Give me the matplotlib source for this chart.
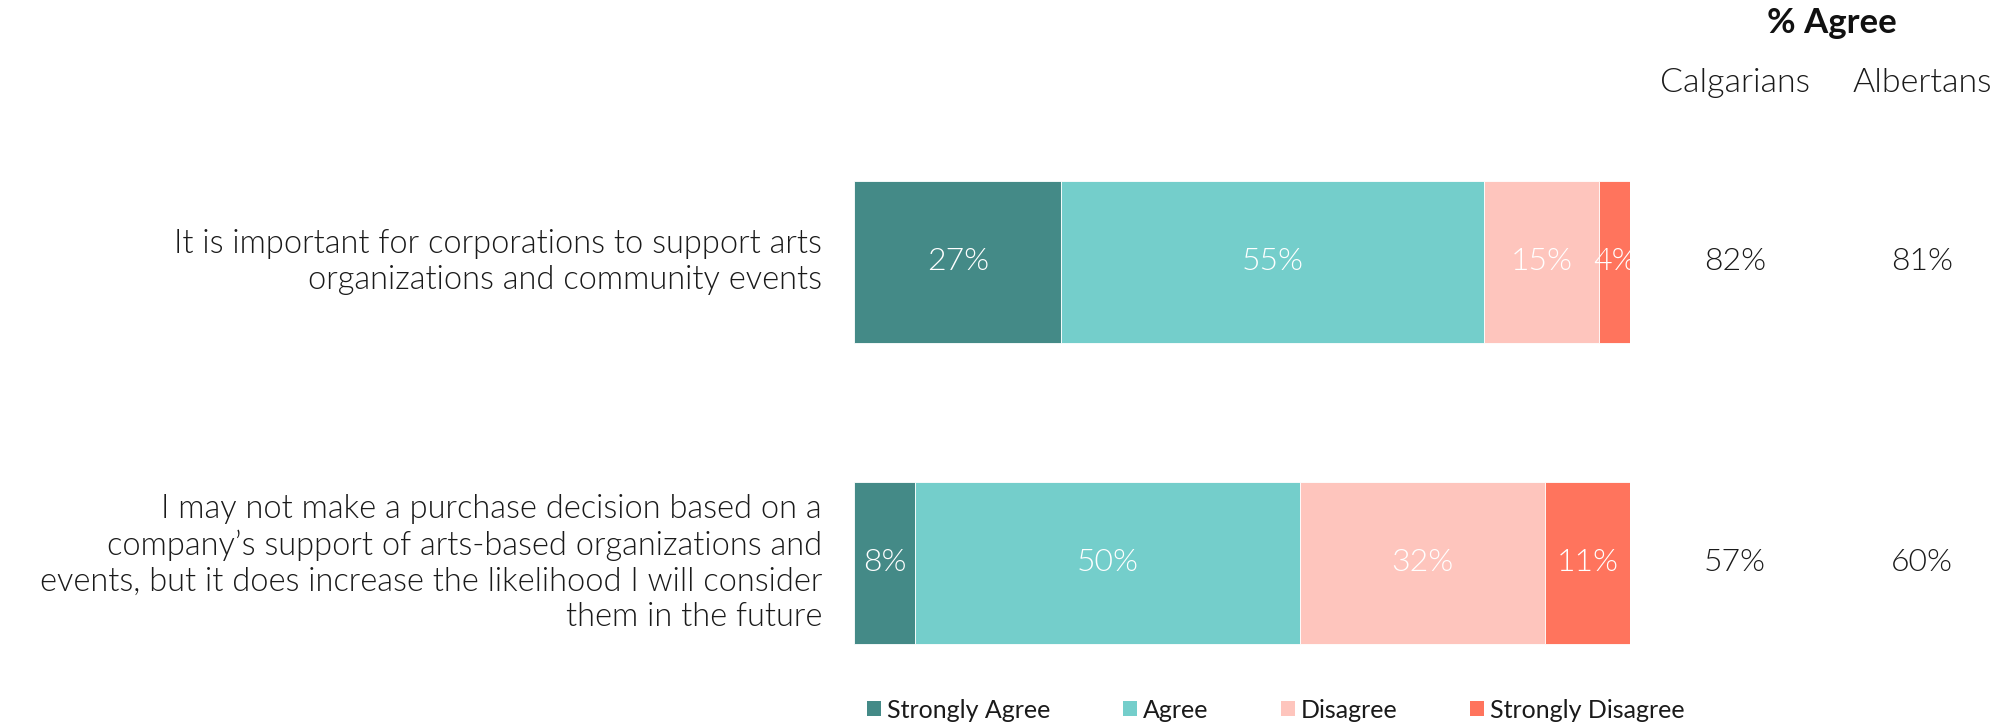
import numpy as np
import matplotlib
matplotlib.use("Agg")
import matplotlib.pyplot as plt
from matplotlib.patches import Patch
from matplotlib.transforms import blended_transform_factory

plt.rcParams['font.family'] = ['Lato', 'DejaVu Sans']

questions = [
    "It is important for corporations to support arts\norganizations and community events",
    "I may not make a purchase decision based on a\ncompany\u2019s support of arts-based organizations and\nevents, but it does increase the likelihood I will consider\nthem in the future",
]
categories = ["Strongly Agree", "Agree", "Disagree", "Strongly Disagree"]
strongly_agree = [27, 8]
agree = [55, 50]
disagree = [15, 32]
strongly_disagree = [4, 11]
calgarians = [82, 57]
albertans = [81, 60]
colors = ["#448A87", "#74CECB", "#FEC5BD", "#FF745D"]

W, H = 2003, 726
fig = plt.figure(figsize=(W / 100, H / 100), dpi=100)
ax = fig.add_axes([854 / W, 0, 776 / W, 1])

series = [strongly_agree, agree, disagree, strongly_disagree]
y = np.arange(len(questions))
left = np.zeros(len(questions))
for vals, col, name in zip(series, colors, categories):
    vals = np.array(vals, dtype=float)
    ax.barh(y, vals, left=left, height=0.54, color=col, edgecolor="white",
            linewidth=0.6, label=name)
    for yi, l, v in zip(y, left, vals):
        ax.text(l + v / 2, yi, f"{int(v)}%", ha="center", va="center",
                color="white", fontsize=23, fontweight=300)
    left += vals

ax.set_xlim(0, 101)
ax.set_ylim(1.5415, -0.870)
ax.axis("off")

# question labels on the left
tq = blended_transform_factory(fig.transFigure, ax.transData)
for yi, q in zip(y, questions):
    ax.text(822 / W, yi, q, transform=tq, ha="right", va="center",
            fontsize=23.5, color="#1a1a1a", linespacing=1.22, fontweight=300)

# % agree columns
for yi, c, a in zip(y, calgarians, albertans):
    ax.text(1735 / W, yi, f"{c}%", transform=tq, ha="center", va="center",
            fontsize=23, color="#1a1a1a", fontweight=300)
    ax.text(1922 / W, yi, f"{a}%", transform=tq, ha="center", va="center",
            fontsize=23, color="#1a1a1a", fontweight=300)

fig.text(1832 / W, 1 - 23 / H, "% Agree", ha="center", va="center",
         fontsize=25, fontweight="bold", color="#111111")
fig.text(1735 / W, 1 - 83 / H, "Calgarians", ha="center", va="center",
         fontsize=24.5, color="#1a1a1a", fontweight=300)
fig.text(1922 / W, 1 - 83 / H, "Albertans", ha="center", va="center",
         fontsize=24.5, color="#1a1a1a", fontweight=300)

handles = [Patch(facecolor=c, edgecolor="none") for c in colors]
fig.legend(handles, categories, loc="center left",
           bbox_to_anchor=(867 / W, 16 / H), ncol=4, frameon=False,
           fontsize=18, handlelength=0.55, handleheight=0.55,
           handletextpad=0.25, columnspacing=2.9, borderpad=0,
           borderaxespad=0, labelcolor="#1a1a1a")

fig.savefig("out.png", dpi=100)
